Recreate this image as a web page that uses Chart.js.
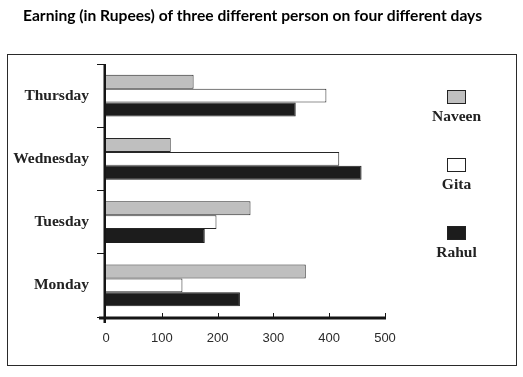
<!DOCTYPE html>
<html>
<head>
<meta charset="utf-8">
<script src="https://cdn.jsdelivr.net/npm/chart.js@4"></script>
<style>
  html, body { margin: 0; padding: 0; background: #fff; }
  #wrap { width: 523px; height: 377px; }
</style>
</head>
<body>
<div id="wrap"><canvas id="chart" width="523" height="377"></canvas></div>
<script>
// top to bottom, as in the picture
const days = ['Thursday', 'Wednesday', 'Tuesday', 'Monday'];
const naveen = [157, 116, 259, 358];
const gita = [395, 418, 198, 137];
const rahul = [340, 458, 177, 240];
const xTicks = [0, 100, 200, 300, 400, 500];
const chartTitle = 'Earning (in Rupees) of three different person on four different days';

const serifBold = 'bold 15.5px "Liberation Serif", "Times New Roman", serif';

// frame, title, axis lines, inner x ticks and the stacked legend
const decor = {
    id: 'decor',
    afterDraw(chart) {
        const ctx = chart.ctx;
        const area = chart.chartArea;
        const xs = chart.scales.x;
        ctx.save();

        ctx.strokeStyle = '#2a2a2a';
        ctx.lineWidth = 1;
        ctx.strokeRect(7.5, 54.5, 509, 311);

        ctx.fillStyle = '#000';
        ctx.font = 'bold 15.6px Lato, "Open Sans", sans-serif';
        ctx.textAlign = 'center';
        ctx.textBaseline = 'alphabetic';
        ctx.fillText(chartTitle, 252.5, 21);

        // axis lines
        ctx.fillStyle = '#151515';
        ctx.fillRect(area.left - 7, area.bottom - 0.5, area.right - area.left + 8, 3);
        ctx.fillRect(area.left - 2.5, area.top, 2.5, area.bottom - area.top + 6);

        // small ticks pointing up into the plot
        ctx.strokeStyle = '#151515';
        ctx.lineWidth = 1;
        xTicks.slice(1).forEach(v => {
            const px = Math.round(xs.getPixelForValue(v)) + 0.5;
            ctx.beginPath();
            ctx.moveTo(px, area.bottom - 4);
            ctx.lineTo(px, area.bottom);
            ctx.stroke();
        });

        // legend: box above the name
        chart.data.datasets.forEach((ds, i) => {
            const top = 90 + i * 68;
            ctx.fillStyle = ds.backgroundColor;
            ctx.fillRect(447, top, 19, 14);
            ctx.strokeStyle = '#222';
            ctx.strokeRect(447.5, top + 0.5, 18, 13);
            ctx.fillStyle = '#222';
            ctx.font = serifBold;
            ctx.textAlign = 'center';
            ctx.textBaseline = 'middle';
            ctx.fillText(ds.label, 456.5, top + 27);
        });
        ctx.restore();
    }
};

const ctx = document.getElementById('chart').getContext('2d');
const myChart = new Chart(ctx, {
    type: 'bar',
    data: {
        labels: days,
        datasets: [
            {
                label: 'Naveen',
                data: naveen,
                backgroundColor: '#bfbfbf',
                borderColor: '#262626',
                borderWidth: 1
            },
            {
                label: 'Gita',
                data: gita,
                backgroundColor: '#ffffff',
                borderColor: '#262626',
                borderWidth: 1
            },
            {
                label: 'Rahul',
                data: rahul,
                backgroundColor: '#1c1c1c',
                borderColor: '#1c1c1c',
                borderWidth: 1
            }
        ]
    },
    options: {
        indexAxis: 'y',
        responsive: false,
        animation: false,
        categoryPercentage: 0.66,
        barPercentage: 1,
        layout: {
            padding: { top: 64, right: 138, bottom: 0, left: 0 }
        },
        plugins: {
            legend: { display: false },
            title: { display: false },
            tooltip: { enabled: false }
        },
        scales: {
            x: {
                min: 0,
                max: 500,
                afterFit: s => { s.height = 60; },
                afterBuildTicks: s => { s.ticks = xTicks.map(v => ({ value: v })); },
                grid: { display: false },
                border: { display: false },
                ticks: {
                    color: '#2b2b2b',
                    padding: 6,
                    font: { family: '"Liberation Sans", Arial, sans-serif', size: 13 }
                }
            },
            y: {
                afterFit: s => { s.width = 106; },
                grid: {
                    drawOnChartArea: false,
                    drawTicks: true,
                    tickLength: 9,
                    color: '#151515',
                    lineWidth: 1
                },
                border: { display: false },
                ticks: {
                    color: '#222',
                    padding: 8,
                    font: { family: '"Liberation Serif", "Times New Roman", serif', size: 15.5, weight: 'bold' }
                }
            }
        }
    },
    plugins: [decor]
});
</script>
</body>
</html>
